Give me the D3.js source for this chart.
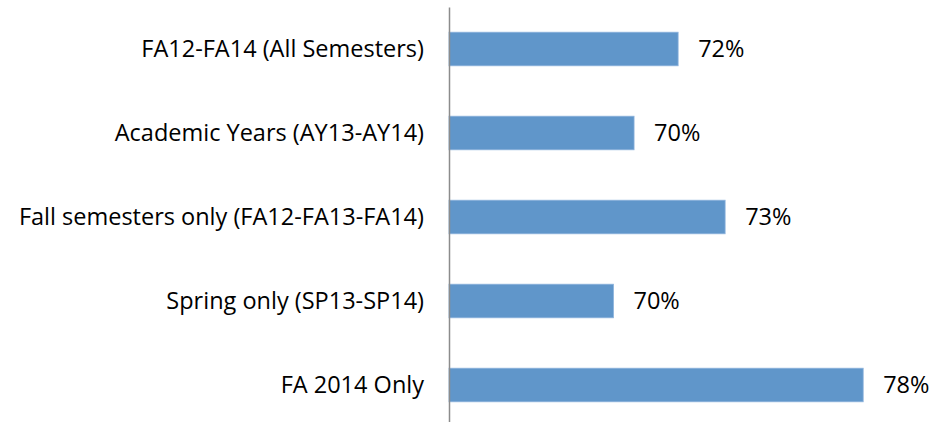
<!DOCTYPE html>
<html>
<head>
<meta charset="utf-8">
<script src="https://cdn.jsdelivr.net/npm/d3@7"></script>
<style>
  body { margin: 0; background: #fff; }
  svg text { font-family: "Open Sans", sans-serif; fill: #000; }
</style>
</head>
<body>
<svg id="chart"></svg>
<script>
// categories and values, top to bottom
const categories = [
  'FA12-FA14 (All Semesters)',
  'Academic Years (AY13-AY14)',
  'Fall semesters only (FA12-FA13-FA14)',
  'Spring only (SP13-SP14)',
  'FA 2014 Only'
];
const rates = [0.718, 0.703, 0.734, 0.696, 0.781];
const axisRange = [0.64, 0.80];

const width = 930;
const height = 422;
const axisX = 449;
const fontSize = 23.5;

const svg = d3.select('#chart')
    .attr('width', width)
    .attr('height', height);

const xScale = d3.scaleLinear()
    .domain(axisRange)
    .range([axisX, 919]);

const yScale = d3.scaleBand()
    .domain(categories)
    .range([7, 427])
    .paddingInner(0.6)
    .paddingOuter(0.3);

const data = categories.map((c, i) => ({ name: c, value: rates[i] }));

// bars
svg.selectAll('.bar')
    .data(data)
    .enter()
    .append('rect')
    .attr('class', 'bar')
    .attr('x', xScale(axisRange[0]))
    .attr('y', (d) => yScale(d.name))
    .attr('width', (d) => xScale(d.value) - xScale(axisRange[0]))
    .attr('height', yScale.bandwidth())
    .attr('fill', '#6096ca')
    .attr('stroke', '#8db3dc')
    .attr('stroke-width', 0.8);

// category axis
const yAxis = svg.append('g')
    .attr('class', 'axis axis--y')
    .attr('transform', 'translate(' + axisX + ',0)')
    .call(d3.axisLeft(yScale).tickSize(0).tickSizeOuter(0).tickPadding(25));

yAxis.select('.domain')
    .attr('stroke', '#8c8c8c')
    .attr('stroke-width', 1.5);

yAxis.selectAll('text')
    .style('font-size', fontSize + 'px')
    .attr('fill', '#000');

// value labels
const fmt = d3.format('.0%');
svg.selectAll('.value-label')
    .data(data)
    .enter()
    .append('text')
    .attr('class', 'value-label')
    .attr('x', (d) => xScale(d.value) + 20)
    .attr('y', (d) => yScale(d.name) + yScale.bandwidth() / 2)
    .attr('dy', '0.35em')
    .style('font-size', fontSize + 'px')
    .text((d) => fmt(d.value));
</script>
</body>
</html>
